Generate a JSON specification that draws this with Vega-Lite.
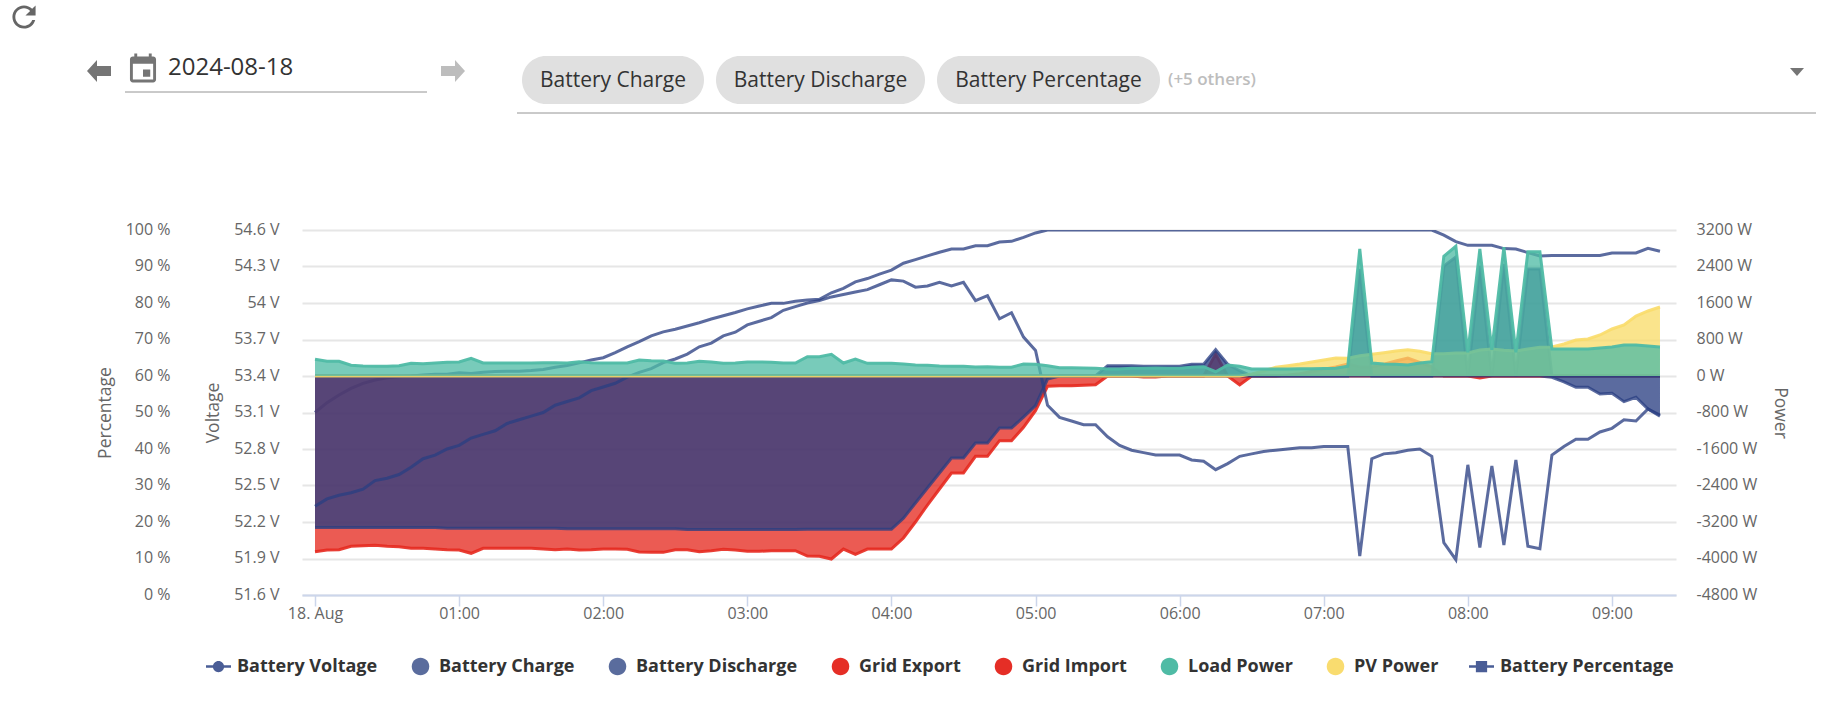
{
  "$schema": "https://vega.github.io/schema/vega-lite/v6.json",
  "width": 1374,
  "height": 365,
  "autosize": "none",
  "padding": {"left": 302, "top": 230, "right": 151, "bottom": 109},
  "background": "white",
  "config": {"view": {"stroke": null}, "font": "Open Sans"},
  "data": {
    "values": [
      {"t":"2024-08-18T00:00","voltage":52.33,"charge":-3320,"discharge":0,"export":0,"import":-3851,"load":366,"pv":0,"percent":50},
      {"t":"2024-08-18T00:05","voltage":52.39,"charge":-3320,"discharge":0,"export":0,"import":-3814,"load":322,"pv":0,"percent":52.7},
      {"t":"2024-08-18T00:10","voltage":52.42,"charge":-3320,"discharge":0,"export":0,"import":-3808,"load":322,"pv":0,"percent":54.8},
      {"t":"2024-08-18T00:15","voltage":52.44,"charge":-3320,"discharge":0,"export":0,"import":-3733,"load":235,"pv":0,"percent":56.6},
      {"t":"2024-08-18T00:20","voltage":52.47,"charge":-3320,"discharge":0,"export":0,"import":-3720,"load":219,"pv":0,"percent":58},
      {"t":"2024-08-18T00:25","voltage":52.54,"charge":-3320,"discharge":0,"export":0,"import":-3711,"load":213,"pv":0,"percent":58.9},
      {"t":"2024-08-18T00:30","voltage":52.56,"charge":-3320,"discharge":0,"export":0,"import":-3733,"load":213,"pv":0,"percent":59.5},
      {"t":"2024-08-18T00:35","voltage":52.59,"charge":-3320,"discharge":0,"export":0,"import":-3742,"load":226,"pv":0,"percent":59.8},
      {"t":"2024-08-18T00:40","voltage":52.65,"charge":-3320,"discharge":0,"export":0,"import":-3777,"load":278,"pv":0,"percent":60},
      {"t":"2024-08-18T00:45","voltage":52.72,"charge":-3320,"discharge":0,"export":0,"import":-3777,"load":270,"pv":0,"percent":60.3},
      {"t":"2024-08-18T00:50","voltage":52.75,"charge":-3320,"discharge":0,"export":0,"import":-3792,"load":285,"pv":0,"percent":60.5},
      {"t":"2024-08-18T00:55","voltage":52.8,"charge":-3335,"discharge":0,"export":0,"import":-3808,"load":300,"pv":0,"percent":60.5},
      {"t":"2024-08-18T01:00","voltage":52.83,"charge":-3335,"discharge":0,"export":0,"import":-3814,"load":307,"pv":0,"percent":60.9},
      {"t":"2024-08-18T01:05","voltage":52.89,"charge":-3335,"discharge":0,"export":0,"import":-3886,"load":388,"pv":0,"percent":60.7},
      {"t":"2024-08-18T01:10","voltage":52.92,"charge":-3335,"discharge":0,"export":0,"import":-3777,"load":285,"pv":0,"percent":61},
      {"t":"2024-08-18T01:15","voltage":52.95,"charge":-3335,"discharge":0,"export":0,"import":-3777,"load":285,"pv":0,"percent":61.2},
      {"t":"2024-08-18T01:20","voltage":53.01,"charge":-3335,"discharge":0,"export":0,"import":-3777,"load":285,"pv":0,"percent":61.3},
      {"t":"2024-08-18T01:25","voltage":53.04,"charge":-3335,"discharge":0,"export":0,"import":-3777,"load":285,"pv":0,"percent":61.3},
      {"t":"2024-08-18T01:30","voltage":53.07,"charge":-3335,"discharge":0,"export":0,"import":-3777,"load":285,"pv":0,"percent":61.5},
      {"t":"2024-08-18T01:35","voltage":53.1,"charge":-3335,"discharge":0,"export":0,"import":-3792,"load":292,"pv":0,"percent":61.8},
      {"t":"2024-08-18T01:40","voltage":53.16,"charge":-3335,"discharge":0,"export":0,"import":-3808,"load":292,"pv":0,"percent":62.4},
      {"t":"2024-08-18T01:45","voltage":53.19,"charge":-3350,"discharge":0,"export":0,"import":-3792,"load":285,"pv":0,"percent":62.9},
      {"t":"2024-08-18T01:50","voltage":53.22,"charge":-3350,"discharge":0,"export":0,"import":-3814,"load":313,"pv":0,"percent":63.6},
      {"t":"2024-08-18T01:55","voltage":53.28,"charge":-3350,"discharge":0,"export":0,"import":-3808,"load":292,"pv":0,"percent":64.4},
      {"t":"2024-08-18T02:00","voltage":53.31,"charge":-3350,"discharge":0,"export":0,"import":-3792,"load":285,"pv":0,"percent":65},
      {"t":"2024-08-18T02:05","voltage":53.34,"charge":-3350,"discharge":0,"export":0,"import":-3792,"load":285,"pv":0,"percent":66.4},
      {"t":"2024-08-18T02:10","voltage":53.39,"charge":-3350,"discharge":0,"export":0,"import":-3799,"load":285,"pv":0,"percent":68},
      {"t":"2024-08-18T02:15","voltage":53.43,"charge":-3350,"discharge":0,"export":0,"import":-3858,"load":351,"pv":0,"percent":69.4},
      {"t":"2024-08-18T02:20","voltage":53.46,"charge":-3350,"discharge":0,"export":0,"import":-3865,"load":335,"pv":0,"percent":71},
      {"t":"2024-08-18T02:25","voltage":53.51,"charge":-3350,"discharge":0,"export":0,"import":-3865,"load":329,"pv":0,"percent":72.1},
      {"t":"2024-08-18T02:30","voltage":53.54,"charge":-3350,"discharge":0,"export":0,"import":-3808,"load":278,"pv":0,"percent":72.8},
      {"t":"2024-08-18T02:35","voltage":53.58,"charge":-3365,"discharge":0,"export":0,"import":-3808,"load":285,"pv":0,"percent":73.7},
      {"t":"2024-08-18T02:40","voltage":53.64,"charge":-3365,"discharge":0,"export":0,"import":-3851,"load":322,"pv":0,"percent":74.6},
      {"t":"2024-08-18T02:45","voltage":53.67,"charge":-3365,"discharge":0,"export":0,"import":-3829,"load":307,"pv":0,"percent":75.6},
      {"t":"2024-08-18T02:50","voltage":53.73,"charge":-3365,"discharge":0,"export":0,"import":-3799,"load":278,"pv":0,"percent":76.5},
      {"t":"2024-08-18T02:55","voltage":53.76,"charge":-3365,"discharge":0,"export":0,"import":-3814,"load":285,"pv":0,"percent":77.4},
      {"t":"2024-08-18T03:00","voltage":53.82,"charge":-3365,"discharge":0,"export":0,"import":-3843,"load":307,"pv":0,"percent":78.4},
      {"t":"2024-08-18T03:05","voltage":53.85,"charge":-3365,"discharge":0,"export":0,"import":-3843,"load":307,"pv":0,"percent":79.2},
      {"t":"2024-08-18T03:10","voltage":53.88,"charge":-3365,"discharge":0,"export":0,"import":-3829,"load":300,"pv":0,"percent":79.9},
      {"t":"2024-08-18T03:15","voltage":53.94,"charge":-3365,"discharge":0,"export":0,"import":-3829,"load":285,"pv":0,"percent":79.9},
      {"t":"2024-08-18T03:20","voltage":53.97,"charge":-3365,"discharge":0,"export":0,"import":-3829,"load":285,"pv":0,"percent":80.5},
      {"t":"2024-08-18T03:25","voltage":54,"charge":-3360,"discharge":0,"export":0,"import":-3946,"load":423,"pv":0,"percent":80.8},
      {"t":"2024-08-18T03:30","voltage":54.02,"charge":-3360,"discharge":0,"export":0,"import":-3952,"load":423,"pv":0,"percent":81},
      {"t":"2024-08-18T03:35","voltage":54.05,"charge":-3360,"discharge":0,"export":0,"import":-4011,"load":476,"pv":0,"percent":82.8},
      {"t":"2024-08-18T03:40","voltage":54.07,"charge":-3360,"discharge":0,"export":0,"import":-3792,"load":285,"pv":0,"percent":84},
      {"t":"2024-08-18T03:45","voltage":54.09,"charge":-3360,"discharge":0,"export":0,"import":-3908,"load":373,"pv":0,"percent":85.8},
      {"t":"2024-08-18T03:50","voltage":54.11,"charge":-3360,"discharge":0,"export":0,"import":-3792,"load":278,"pv":0,"percent":86.7},
      {"t":"2024-08-18T03:55","voltage":54.15,"charge":-3360,"discharge":0,"export":0,"import":-3792,"load":278,"pv":0,"percent":87.9},
      {"t":"2024-08-18T04:00","voltage":54.19,"charge":-3360,"discharge":0,"export":0,"import":-3792,"load":278,"pv":0,"percent":89},
      {"t":"2024-08-18T04:05","voltage":54.18,"charge":-3120,"discharge":0,"export":0,"import":-3551,"load":263,"pv":0,"percent":90.9},
      {"t":"2024-08-18T04:10","voltage":54.13,"charge":-2784,"discharge":0,"export":0,"import":-3200,"load":241,"pv":0,"percent":91.9},
      {"t":"2024-08-18T04:15","voltage":54.14,"charge":-2455,"discharge":0,"export":0,"import":-2828,"load":235,"pv":0,"percent":92.9},
      {"t":"2024-08-18T04:20","voltage":54.17,"charge":-2126,"discharge":0,"export":0,"import":-2477,"load":219,"pv":0,"percent":93.9},
      {"t":"2024-08-18T04:25","voltage":54.14,"charge":-1797,"discharge":0,"export":0,"import":-2126,"load":213,"pv":0,"percent":94.8},
      {"t":"2024-08-18T04:30","voltage":54.17,"charge":-1797,"discharge":0,"export":0,"import":-2126,"load":213,"pv":0,"percent":94.8},
      {"t":"2024-08-18T04:35","voltage":54.02,"charge":-1469,"discharge":0,"export":0,"import":-1760,"load":197,"pv":0,"percent":95.7},
      {"t":"2024-08-18T04:40","voltage":54.06,"charge":-1469,"discharge":0,"export":0,"import":-1760,"load":204,"pv":0,"percent":95.7},
      {"t":"2024-08-18T04:45","voltage":53.87,"charge":-1140,"discharge":0,"export":0,"import":-1418,"load":191,"pv":0,"percent":96.7},
      {"t":"2024-08-18T04:50","voltage":53.92,"charge":-1140,"discharge":0,"export":0,"import":-1418,"load":191,"pv":0,"percent":96.9},
      {"t":"2024-08-18T04:55","voltage":53.72,"charge":-900,"discharge":0,"export":0,"import":-1125,"load":263,"pv":0,"percent":98},
      {"t":"2024-08-18T05:00","voltage":53.61,"charge":-650,"discharge":0,"export":0,"import":-761,"load":256,"pv":0,"percent":99.2},
      {"t":"2024-08-18T05:05","voltage":53.16,"charge":-66,"discharge":0,"export":0,"import":-226,"load":226,"pv":0,"percent":100},
      {"t":"2024-08-18T05:10","voltage":53.06,"charge":0,"discharge":0,"export":0,"import":-213,"load":182,"pv":0,"percent":100},
      {"t":"2024-08-18T05:15","voltage":53.03,"charge":0,"discharge":0,"export":0,"import":-213,"load":182,"pv":0,"percent":100},
      {"t":"2024-08-18T05:20","voltage":53,"charge":0,"discharge":0,"export":0,"import":-204,"load":175,"pv":0,"percent":100},
      {"t":"2024-08-18T05:25","voltage":53,"charge":0,"discharge":0,"export":0,"import":-191,"load":169,"pv":0,"percent":100},
      {"t":"2024-08-18T05:30","voltage":52.9,"charge":0,"discharge":226,"export":0,"import":0,"load":153,"pv":0,"percent":100},
      {"t":"2024-08-18T05:35","voltage":52.83,"charge":0,"discharge":226,"export":0,"import":0,"load":153,"pv":0,"percent":100},
      {"t":"2024-08-18T05:40","voltage":52.79,"charge":0,"discharge":226,"export":0,"import":0,"load":169,"pv":0,"percent":100},
      {"t":"2024-08-18T05:45","voltage":52.77,"charge":0,"discharge":212,"export":0,"import":-20,"load":169,"pv":0,"percent":100},
      {"t":"2024-08-18T05:50","voltage":52.75,"charge":0,"discharge":212,"export":0,"import":-20,"load":175,"pv":0,"percent":100},
      {"t":"2024-08-18T05:55","voltage":52.75,"charge":0,"discharge":212,"export":0,"import":0,"load":169,"pv":0,"percent":100},
      {"t":"2024-08-18T06:00","voltage":52.75,"charge":0,"discharge":212,"export":0,"import":0,"load":169,"pv":0,"percent":100},
      {"t":"2024-08-18T06:05","voltage":52.71,"charge":0,"discharge":256,"export":0,"import":0,"load":191,"pv":0,"percent":100},
      {"t":"2024-08-18T06:10","voltage":52.7,"charge":0,"discharge":256,"export":0,"import":0,"load":204,"pv":0,"percent":100},
      {"t":"2024-08-18T06:15","voltage":52.63,"charge":0,"discharge":577,"export":480,"import":0,"load":94,"pv":0,"percent":100},
      {"t":"2024-08-18T06:20","voltage":52.68,"charge":0,"discharge":256,"export":0,"import":0,"load":241,"pv":0,"percent":100},
      {"t":"2024-08-18T06:25","voltage":52.74,"charge":0,"discharge":116,"export":0,"import":-197,"load":213,"pv":0,"percent":100},
      {"t":"2024-08-18T06:30","voltage":52.76,"charge":0,"discharge":0,"export":0,"import":0,"load":153,"pv":44,"percent":100},
      {"t":"2024-08-18T06:35","voltage":52.78,"charge":0,"discharge":0,"export":0,"import":0,"load":153,"pv":110,"percent":100},
      {"t":"2024-08-18T06:40","voltage":52.79,"charge":0,"discharge":0,"export":0,"import":0,"load":153,"pv":191,"percent":100},
      {"t":"2024-08-18T06:45","voltage":52.8,"charge":0,"discharge":0,"export":20,"import":0,"load":153,"pv":226,"percent":100},
      {"t":"2024-08-18T06:50","voltage":52.81,"charge":0,"discharge":0,"export":50,"import":0,"load":160,"pv":263,"percent":100},
      {"t":"2024-08-18T06:55","voltage":52.81,"charge":0,"discharge":0,"export":100,"import":0,"load":160,"pv":307,"percent":100},
      {"t":"2024-08-18T07:00","voltage":52.82,"charge":0,"discharge":0,"export":150,"import":0,"load":165,"pv":351,"percent":100},
      {"t":"2024-08-18T07:05","voltage":52.82,"charge":0,"discharge":0,"export":200,"import":0,"load":169,"pv":395,"percent":100},
      {"t":"2024-08-18T07:10","voltage":52.82,"charge":0,"discharge":0,"export":263,"import":0,"load":213,"pv":388,"percent":100},
      {"t":"2024-08-18T07:15","voltage":51.92,"charge":0,"discharge":2345,"export":200,"import":0,"load":2784,"pv":445,"percent":100},
      {"t":"2024-08-18T07:20","voltage":52.72,"charge":0,"discharge":0,"export":200,"import":0,"load":285,"pv":476,"percent":100},
      {"t":"2024-08-18T07:25","voltage":52.76,"charge":0,"discharge":0,"export":260,"import":0,"load":263,"pv":511,"percent":100},
      {"t":"2024-08-18T07:30","voltage":52.77,"charge":0,"discharge":0,"export":330,"import":0,"load":256,"pv":548,"percent":100},
      {"t":"2024-08-18T07:35","voltage":52.79,"charge":0,"discharge":0,"export":395,"import":0,"load":241,"pv":576,"percent":100},
      {"t":"2024-08-18T07:40","voltage":52.8,"charge":0,"discharge":0,"export":300,"import":0,"load":285,"pv":541,"percent":100},
      {"t":"2024-08-18T07:45","voltage":52.74,"charge":0,"discharge":0,"export":200,"import":0,"load":313,"pv":489,"percent":100},
      {"t":"2024-08-18T07:50","voltage":52.03,"charge":0,"discharge":2411,"export":0,"import":0,"load":2624,"pv":489,"percent":98.6},
      {"t":"2024-08-18T07:55","voltage":51.89,"charge":0,"discharge":2608,"export":0,"import":0,"load":2843,"pv":504,"percent":96.8},
      {"t":"2024-08-18T08:00","voltage":52.67,"charge":0,"discharge":0,"export":0,"import":0,"load":519,"pv":504,"percent":95.8},
      {"t":"2024-08-18T08:05","voltage":51.99,"charge":0,"discharge":2417,"export":0,"import":-44,"load":2784,"pv":570,"percent":95.8},
      {"t":"2024-08-18T08:10","voltage":52.66,"charge":0,"discharge":0,"export":0,"import":0,"load":576,"pv":592,"percent":95.8},
      {"t":"2024-08-18T08:15","voltage":52.01,"charge":0,"discharge":2455,"export":0,"import":0,"load":2821,"pv":563,"percent":94.9},
      {"t":"2024-08-18T08:20","voltage":52.71,"charge":0,"discharge":0,"export":0,"import":0,"load":519,"pv":548,"percent":94.8},
      {"t":"2024-08-18T08:25","voltage":52,"charge":0,"discharge":2345,"export":0,"import":0,"load":2725,"pv":592,"percent":93.8},
      {"t":"2024-08-18T08:30","voltage":51.98,"charge":0,"discharge":2345,"export":0,"import":0,"load":2725,"pv":629,"percent":92.9},
      {"t":"2024-08-18T08:35","voltage":52.75,"charge":-30,"discharge":0,"export":0,"import":0,"load":592,"pv":636,"percent":93},
      {"t":"2024-08-18T08:40","voltage":52.82,"charge":-130,"discharge":0,"export":0,"import":0,"load":592,"pv":701,"percent":93},
      {"t":"2024-08-18T08:45","voltage":52.88,"charge":-248,"discharge":0,"export":0,"import":0,"load":592,"pv":789,"percent":93},
      {"t":"2024-08-18T08:50","voltage":52.88,"charge":-248,"discharge":0,"export":0,"import":0,"load":592,"pv":811,"percent":93},
      {"t":"2024-08-18T08:55","voltage":52.94,"charge":-395,"discharge":0,"export":0,"import":0,"load":614,"pv":899,"percent":93},
      {"t":"2024-08-18T09:00","voltage":52.97,"charge":-380,"discharge":0,"export":0,"import":0,"load":636,"pv":1030,"percent":93.7},
      {"t":"2024-08-18T09:05","voltage":53.04,"charge":-563,"discharge":0,"export":0,"import":0,"load":680,"pv":1118,"percent":93.7},
      {"t":"2024-08-18T09:10","voltage":53.03,"charge":-467,"discharge":0,"export":0,"import":0,"load":680,"pv":1315,"percent":93.7},
      {"t":"2024-08-18T09:15","voltage":53.13,"charge":-723,"discharge":0,"export":0,"import":0,"load":658,"pv":1425,"percent":95},
      {"t":"2024-08-18T09:20","voltage":53.07,"charge":-855,"discharge":0,"export":0,"import":0,"load":636,"pv":1512,"percent":94.2}
    ]
  },
  "resolve": {"scale": {"x": "independent", "y": "independent"}},
  "layer": [
    {
      "mark": {"type": "line", "color": "#293f82", "opacity": 0.77, "strokeWidth": 3, "clip": true},
      "encoding": {
        "x": {
          "field": "t",
          "type": "temporal",
          "scale": {"domain": [{"year": 2024, "month": 8, "date": 17, "hours": 23, "minutes": 54, "seconds": 35}, {"year": 2024, "month": 8, "date": 18, "hours": 9, "minutes": 26, "seconds": 40}]},
          "axis": {
            "title": null,
            "values": [
              {"year": 2024, "month": 8, "date": 18, "hours": 0},
              {"year": 2024, "month": 8, "date": 18, "hours": 1},
              {"year": 2024, "month": 8, "date": 18, "hours": 2},
              {"year": 2024, "month": 8, "date": 18, "hours": 3},
              {"year": 2024, "month": 8, "date": 18, "hours": 4},
              {"year": 2024, "month": 8, "date": 18, "hours": 5},
              {"year": 2024, "month": 8, "date": 18, "hours": 6},
              {"year": 2024, "month": 8, "date": 18, "hours": 7},
              {"year": 2024, "month": 8, "date": 18, "hours": 8},
              {"year": 2024, "month": 8, "date": 18, "hours": 9}
            ],
            "labelExpr": "hours(datum.value) == 0 ? '18. Aug' : timeFormat(datum.value, '%H:%M')",
            "labelFlush": false,
            "labelOverlap": false,
            "labelColor": "#666666",
            "labelFontSize": 16,
            "labelPadding": -1,
            "grid": false,
            "domainColor": "#ccd6eb",
            "domainWidth": 2,
            "tickColor": "#ccd6eb",
            "tickSize": 11,
            "tickWidth": 1.5
          }
        },
        "y": {
          "field": "percent",
          "type": "quantitative",
          "scale": {"domain": [0, 100]},
          "axis": {"orient": "left", "offset": 109, "title": "Percentage", "titleColor": "#666666", "titleFontSize": 17.5, "titleFontWeight": "normal", "titlePadding": 11, "values": [0, 10, 20, 30, 40, 50, 60, 70, 80, 90, 100], "labelExpr": "datum.value + ' %'", "labelColor": "#666666", "labelFontSize": 16, "labelPadding": 23, "labelOffset": -1, "domain": false, "ticks": false, "grid": false}
        }
      }
    },
    {
      "mark": {"type": "area", "color": "#e5291f", "opacity": 0.77},
      "encoding": {
        "x": {"field": "t", "type": "temporal", "scale": {"domain": [{"year": 2024, "month": 8, "date": 17, "hours": 23, "minutes": 54, "seconds": 35}, {"year": 2024, "month": 8, "date": 18, "hours": 9, "minutes": 26, "seconds": 40}]}, "axis": null},
        "y": {
          "field": "import",
          "type": "quantitative",
          "scale": {"domain": [-4800, 3200]},
          "axis": {"orient": "right", "title": "Power", "titleColor": "#666666", "titleFontSize": 17.5, "titleFontWeight": "normal", "titlePadding": 14, "values": [-4800, -4000, -3200, -2400, -1600, -800, 0, 800, 1600, 2400, 3200], "labelExpr": "datum.value + ' W'", "labelColor": "#666666", "labelFontSize": 16, "labelPadding": 20, "labelOffset": -1, "domain": false, "ticks": false, "grid": true, "gridColor": "#e6e6e6", "gridWidth": 2}
        },
        "y2": {"datum": 0}
      }
    },
    {"mark": {"type": "area", "color": "#e5291f", "opacity": 0.77}, "encoding": {"x": {"field": "t", "type": "temporal", "scale": {"domain": [{"year": 2024, "month": 8, "date": 17, "hours": 23, "minutes": 54, "seconds": 35}, {"year": 2024, "month": 8, "date": 18, "hours": 9, "minutes": 26, "seconds": 40}]}, "axis": null}, "y": {"field": "export", "type": "quantitative", "scale": {"domain": [-4800, 3200]}, "axis": null}, "y2": {"datum": 0}}},
    {"mark": {"type": "line", "color": "#e5291f", "opacity": 0.9, "strokeWidth": 3}, "encoding": {"x": {"field": "t", "type": "temporal", "scale": {"domain": [{"year": 2024, "month": 8, "date": 17, "hours": 23, "minutes": 54, "seconds": 35}, {"year": 2024, "month": 8, "date": 18, "hours": 9, "minutes": 26, "seconds": 40}]}, "axis": null}, "y": {"field": "import", "type": "quantitative", "scale": {"domain": [-4800, 3200]}, "axis": null}}},
    {"mark": {"type": "line", "color": "#e5291f", "opacity": 0.9, "strokeWidth": 3}, "encoding": {"x": {"field": "t", "type": "temporal", "scale": {"domain": [{"year": 2024, "month": 8, "date": 17, "hours": 23, "minutes": 54, "seconds": 35}, {"year": 2024, "month": 8, "date": 18, "hours": 9, "minutes": 26, "seconds": 40}]}, "axis": null}, "y": {"field": "export", "type": "quantitative", "scale": {"domain": [-4800, 3200]}, "axis": null}}},
    {"mark": {"type": "area", "color": "#293f82", "opacity": 0.77}, "encoding": {"x": {"field": "t", "type": "temporal", "scale": {"domain": [{"year": 2024, "month": 8, "date": 17, "hours": 23, "minutes": 54, "seconds": 35}, {"year": 2024, "month": 8, "date": 18, "hours": 9, "minutes": 26, "seconds": 40}]}, "axis": null}, "y": {"field": "charge", "type": "quantitative", "scale": {"domain": [-4800, 3200]}, "axis": null}, "y2": {"datum": 0}}},
    {"mark": {"type": "area", "color": "#293f82", "opacity": 0.77}, "encoding": {"x": {"field": "t", "type": "temporal", "scale": {"domain": [{"year": 2024, "month": 8, "date": 17, "hours": 23, "minutes": 54, "seconds": 35}, {"year": 2024, "month": 8, "date": 18, "hours": 9, "minutes": 26, "seconds": 40}]}, "axis": null}, "y": {"field": "discharge", "type": "quantitative", "scale": {"domain": [-4800, 3200]}, "axis": null}, "y2": {"datum": 0}}},
    {"mark": {"type": "line", "color": "#293f82", "opacity": 0.77, "strokeWidth": 3}, "encoding": {"x": {"field": "t", "type": "temporal", "scale": {"domain": [{"year": 2024, "month": 8, "date": 17, "hours": 23, "minutes": 54, "seconds": 35}, {"year": 2024, "month": 8, "date": 18, "hours": 9, "minutes": 26, "seconds": 40}]}, "axis": null}, "y": {"field": "charge", "type": "quantitative", "scale": {"domain": [-4800, 3200]}, "axis": null}}},
    {"mark": {"type": "line", "color": "#293f82", "opacity": 0.77, "strokeWidth": 3}, "encoding": {"x": {"field": "t", "type": "temporal", "scale": {"domain": [{"year": 2024, "month": 8, "date": 17, "hours": 23, "minutes": 54, "seconds": 35}, {"year": 2024, "month": 8, "date": 18, "hours": 9, "minutes": 26, "seconds": 40}]}, "axis": null}, "y": {"field": "discharge", "type": "quantitative", "scale": {"domain": [-4800, 3200]}, "axis": null}}},
    {
      "mark": {"type": "line", "color": "#293f82", "opacity": 0.77, "strokeWidth": 3},
      "encoding": {
        "x": {"field": "t", "type": "temporal", "scale": {"domain": [{"year": 2024, "month": 8, "date": 17, "hours": 23, "minutes": 54, "seconds": 35}, {"year": 2024, "month": 8, "date": 18, "hours": 9, "minutes": 26, "seconds": 40}]}, "axis": null},
        "y": {
          "field": "voltage",
          "type": "quantitative",
          "scale": {"domain": [51.6, 54.6]},
          "axis": {"orient": "left", "title": "Voltage", "titleColor": "#666666", "titleFontSize": 17.5, "titleFontWeight": "normal", "titlePadding": 11, "values": [51.6, 51.9, 52.2, 52.5, 52.8, 53.1, 53.4, 53.7, 54, 54.3, 54.6], "labelExpr": "datum.value + ' V'", "labelColor": "#666666", "labelFontSize": 16, "labelPadding": 23, "labelOffset": -1, "domain": false, "ticks": false, "grid": false}
        }
      }
    },
    {"mark": {"type": "area", "color": "#f9dc69", "opacity": 0.77}, "encoding": {"x": {"field": "t", "type": "temporal", "scale": {"domain": [{"year": 2024, "month": 8, "date": 17, "hours": 23, "minutes": 54, "seconds": 35}, {"year": 2024, "month": 8, "date": 18, "hours": 9, "minutes": 26, "seconds": 40}]}, "axis": null}, "y": {"field": "pv", "type": "quantitative", "scale": {"domain": [-4800, 3200]}, "axis": null}, "y2": {"datum": 0}}},
    {"mark": {"type": "line", "color": "#f9dc69", "opacity": 0.9, "strokeWidth": 3}, "encoding": {"x": {"field": "t", "type": "temporal", "scale": {"domain": [{"year": 2024, "month": 8, "date": 17, "hours": 23, "minutes": 54, "seconds": 35}, {"year": 2024, "month": 8, "date": 18, "hours": 9, "minutes": 26, "seconds": 40}]}, "axis": null}, "y": {"field": "pv", "type": "quantitative", "scale": {"domain": [-4800, 3200]}, "axis": null}}},
    {"mark": {"type": "area", "color": "#4fbba5", "opacity": 0.77}, "encoding": {"x": {"field": "t", "type": "temporal", "scale": {"domain": [{"year": 2024, "month": 8, "date": 17, "hours": 23, "minutes": 54, "seconds": 35}, {"year": 2024, "month": 8, "date": 18, "hours": 9, "minutes": 26, "seconds": 40}]}, "axis": null}, "y": {"field": "load", "type": "quantitative", "scale": {"domain": [-4800, 3200]}, "axis": null}, "y2": {"datum": 0}}},
    {"mark": {"type": "line", "color": "#4fbba5", "opacity": 0.95, "strokeWidth": 3}, "encoding": {"x": {"field": "t", "type": "temporal", "scale": {"domain": [{"year": 2024, "month": 8, "date": 17, "hours": 23, "minutes": 54, "seconds": 35}, {"year": 2024, "month": 8, "date": 18, "hours": 9, "minutes": 26, "seconds": 40}]}, "axis": null}, "y": {"field": "load", "type": "quantitative", "scale": {"domain": [-4800, 3200]}, "axis": null}}},
    {
      "data": {"values": [{"series": "Battery Voltage"}, {"series": "Battery Charge"}, {"series": "Battery Discharge"}, {"series": "Grid Export"}, {"series": "Grid Import"}, {"series": "Load Power"}, {"series": "PV Power"}, {"series": "Battery Percentage"}]},
      "transform": [{"filter": "datum.series == null"}],
      "mark": {"type": "point", "filled": true, "opacity": 1},
      "encoding": {
        "x": {"datum": 0, "type": "quantitative", "scale": {"domain": [302, 1676]}, "axis": null},
        "y": {"datum": 0, "type": "quantitative", "scale": {"domain": [595, 230]}, "axis": null},
        "color": {
          "field": "series",
          "type": "nominal",
          "scale": {
            "domain": ["Battery Voltage", "Battery Charge", "Battery Discharge", "Grid Export", "Grid Import", "Load Power", "PV Power", "Battery Percentage"],
            "range": ["#4a5d96", "#5a6c9d", "#5a6c9d", "#e52e26", "#e52e26", "#4fbba5", "#f9dc6f", "#4a5d96"]
          },
          "legend": {"title": null, "orient": "none", "legendX": -96, "legendY": 424, "direction": "horizontal", "columns": 8, "gridAlign": "none", "columnPadding": 30, "symbolSize": 625, "symbolStrokeWidth": 0, "labelOffset": 6, "labelFontSize": 18, "labelFontWeight": "bold", "labelColor": "#333333", "labelLimit": 300}
        },
        "shape": {
          "field": "series",
          "type": "nominal",
          "scale": {
            "domain": ["Battery Voltage", "Battery Charge", "Battery Discharge", "Grid Export", "Grid Import", "Load Power", "PV Power", "Battery Percentage"],
            "range": [
              "M-1,-0.1H1V0.1H-1Z M0.45,0A0.45,0.45 0 1,1 -0.45,0A0.45,0.45 0 1,1 0.45,0Z",
              "M0.7,0A0.7,0.7 0 1,1 -0.7,0A0.7,0.7 0 1,1 0.7,0Z",
              "M0.7,0A0.7,0.7 0 1,1 -0.7,0A0.7,0.7 0 1,1 0.7,0Z",
              "M0.7,0A0.7,0.7 0 1,1 -0.7,0A0.7,0.7 0 1,1 0.7,0Z",
              "M0.7,0A0.7,0.7 0 1,1 -0.7,0A0.7,0.7 0 1,1 0.7,0Z",
              "M0.7,0A0.7,0.7 0 1,1 -0.7,0A0.7,0.7 0 1,1 0.7,0Z",
              "M0.7,0A0.7,0.7 0 1,1 -0.7,0A0.7,0.7 0 1,1 0.7,0Z",
              "M-1,-0.1H1V0.1H-1Z M-0.45,-0.45H0.45V0.45H-0.45Z"
            ]
          },
          "legend": {"title": null, "orient": "none", "legendX": -96, "legendY": 424, "direction": "horizontal", "columns": 8, "gridAlign": "none", "columnPadding": 30, "symbolSize": 625, "symbolStrokeWidth": 0, "labelOffset": 6, "labelFontSize": 18, "labelFontWeight": "bold", "labelColor": "#333333", "labelLimit": 300}
        }
      }
    },
    {
      "data": {"values": [{"control": "refresh"}]},
      "mark": {"type": "point", "filled": true, "opacity": 1, "color": "#666666", "size": 8.4, "shape": "M5.65,-5.65C4.2,-7.1 2.21,-8 0,-8c-4.42,0-7.99,3.58-7.99,8s3.57,8 7.99,8c3.73,0 6.84,-2.55 7.73,-6h-2.08c-.82,2.33-3.04,4-5.65,4-3.31,0-6,-2.69-6,-6s2.69,-6 6,-6c1.66,0 3.14,.69 4.22,1.78L1,-1h7V-8l-2.35,2.35z"},
      "encoding": {
        "x": {"datum": 24, "type": "quantitative", "scale": {"domain": [302, 1676]}, "axis": null},
        "y": {"datum": 17, "type": "quantitative", "scale": {"domain": [595, 230]}, "axis": null}
      }
    },
    {
      "data": {"values": [{"control": "previous day"}]},
      "mark": {"type": "point", "filled": true, "opacity": 1, "color": "#757575", "size": 4, "shape": "M-12,0L-2,-11V-5H12V5H-2V11Z"},
      "encoding": {
        "x": {"datum": 99, "type": "quantitative", "scale": {"domain": [302, 1676]}, "axis": null},
        "y": {"datum": 71, "type": "quantitative", "scale": {"domain": [595, 230]}, "axis": null}
      }
    },
    {
      "data": {"values": [{"control": "next day"}]},
      "mark": {"type": "point", "filled": true, "opacity": 1, "color": "#bdbdbd", "size": 4, "shape": "M12,0L2,-11V-5H-12V5H2V11Z"},
      "encoding": {
        "x": {"datum": 453, "type": "quantitative", "scale": {"domain": [302, 1676]}, "axis": null},
        "y": {"datum": 71, "type": "quantitative", "scale": {"domain": [595, 230]}, "axis": null}
      }
    },
    {
      "data": {"values": [{"control": "calendar"}]},
      "mark": {"type": "point", "filled": true, "opacity": 1, "color": "#757575", "size": 8.4, "shape": "M5,1h-5v5h5v-5zM4,-10v2H-4V-10H-6v2H-7c-1.11,0-1.99,.9-1.99,2L-9,8c0,1.1 .89,2 2,2h14c1.1,0 2,-.9 2,-2V-6c0,-1.1-.9,-2-2,-2h-1V-10h-2zm3,18H-7V-3h14v11z"},
      "encoding": {
        "x": {"datum": 143, "type": "quantitative", "scale": {"domain": [302, 1676]}, "axis": null},
        "y": {"datum": 68, "type": "quantitative", "scale": {"domain": [595, 230]}, "axis": null}
      }
    },
    {
      "data": {"values": [{"label": "2024-08-18"}]},
      "mark": {"type": "text", "align": "left", "baseline": "middle", "fontSize": 24, "color": "#333333"},
      "encoding": {
        "x": {"datum": 168, "type": "quantitative", "scale": {"domain": [302, 1676]}, "axis": null},
        "y": {"datum": 68, "type": "quantitative", "scale": {"domain": [595, 230]}, "axis": null},
        "text": {"field": "label"}
      }
    },
    {
      "data": {"values": [{"control": "date underline"}]},
      "mark": {"type": "rule", "color": "#949494", "strokeWidth": 1},
      "encoding": {
        "x": {"datum": 125, "type": "quantitative", "scale": {"domain": [302, 1676]}, "axis": null},
        "x2": {"datum": 427},
        "y": {"datum": 92, "type": "quantitative", "scale": {"domain": [595, 230]}, "axis": null}
      }
    },
    {
      "data": {"values": [{"control": "chip"}]},
      "mark": {"type": "rect", "color": "#e0e0e0", "cornerRadius": 24},
      "encoding": {
        "x": {"datum": 522, "type": "quantitative", "scale": {"domain": [302, 1676]}, "axis": null},
        "x2": {"datum": 704},
        "y": {"datum": 56, "type": "quantitative", "scale": {"domain": [595, 230]}, "axis": null},
        "y2": {"datum": 104}
      }
    },
    {
      "data": {"values": [{"control": "chip"}]},
      "mark": {"type": "rect", "color": "#e0e0e0", "cornerRadius": 24},
      "encoding": {
        "x": {"datum": 716, "type": "quantitative", "scale": {"domain": [302, 1676]}, "axis": null},
        "x2": {"datum": 925},
        "y": {"datum": 56, "type": "quantitative", "scale": {"domain": [595, 230]}, "axis": null},
        "y2": {"datum": 104}
      }
    },
    {
      "data": {"values": [{"control": "chip"}]},
      "mark": {"type": "rect", "color": "#e0e0e0", "cornerRadius": 24},
      "encoding": {
        "x": {"datum": 937, "type": "quantitative", "scale": {"domain": [302, 1676]}, "axis": null},
        "x2": {"datum": 1160},
        "y": {"datum": 56, "type": "quantitative", "scale": {"domain": [595, 230]}, "axis": null},
        "y2": {"datum": 104}
      }
    },
    {
      "data": {"values": [{"label": "Battery Charge"}]},
      "mark": {"type": "text", "align": "center", "baseline": "middle", "fontSize": 21, "color": "#333333"},
      "encoding": {
        "x": {"datum": 613, "type": "quantitative", "scale": {"domain": [302, 1676]}, "axis": null},
        "y": {"datum": 81, "type": "quantitative", "scale": {"domain": [595, 230]}, "axis": null},
        "text": {"field": "label"}
      }
    },
    {
      "data": {"values": [{"label": "Battery Discharge"}]},
      "mark": {"type": "text", "align": "center", "baseline": "middle", "fontSize": 21, "color": "#333333"},
      "encoding": {
        "x": {"datum": 820.5, "type": "quantitative", "scale": {"domain": [302, 1676]}, "axis": null},
        "y": {"datum": 81, "type": "quantitative", "scale": {"domain": [595, 230]}, "axis": null},
        "text": {"field": "label"}
      }
    },
    {
      "data": {"values": [{"label": "Battery Percentage"}]},
      "mark": {"type": "text", "align": "center", "baseline": "middle", "fontSize": 21, "color": "#333333"},
      "encoding": {
        "x": {"datum": 1048.5, "type": "quantitative", "scale": {"domain": [302, 1676]}, "axis": null},
        "y": {"datum": 81, "type": "quantitative", "scale": {"domain": [595, 230]}, "axis": null},
        "text": {"field": "label"}
      }
    },
    {
      "data": {"values": [{"label": "(+5 others)"}]},
      "mark": {"type": "text", "align": "left", "baseline": "middle", "fontSize": 17, "fontWeight": 600, "color": "#bdbdbd"},
      "encoding": {
        "x": {"datum": 1168, "type": "quantitative", "scale": {"domain": [302, 1676]}, "axis": null},
        "y": {"datum": 80, "type": "quantitative", "scale": {"domain": [595, 230]}, "axis": null},
        "text": {"field": "label"}
      }
    },
    {
      "data": {"values": [{"control": "dropdown caret"}]},
      "mark": {"type": "point", "filled": true, "opacity": 1, "color": "#757575", "size": 4, "shape": "M-7,-4H7L0,4Z"},
      "encoding": {
        "x": {"datum": 1797, "type": "quantitative", "scale": {"domain": [302, 1676]}, "axis": null},
        "y": {"datum": 72, "type": "quantitative", "scale": {"domain": [595, 230]}, "axis": null}
      }
    },
    {
      "data": {"values": [{"control": "dropdown underline"}]},
      "mark": {"type": "rule", "color": "#949494", "strokeWidth": 1},
      "encoding": {
        "x": {"datum": 517, "type": "quantitative", "scale": {"domain": [302, 1676]}, "axis": null},
        "x2": {"datum": 1816},
        "y": {"datum": 113, "type": "quantitative", "scale": {"domain": [595, 230]}, "axis": null}
      }
    }
  ]
}
